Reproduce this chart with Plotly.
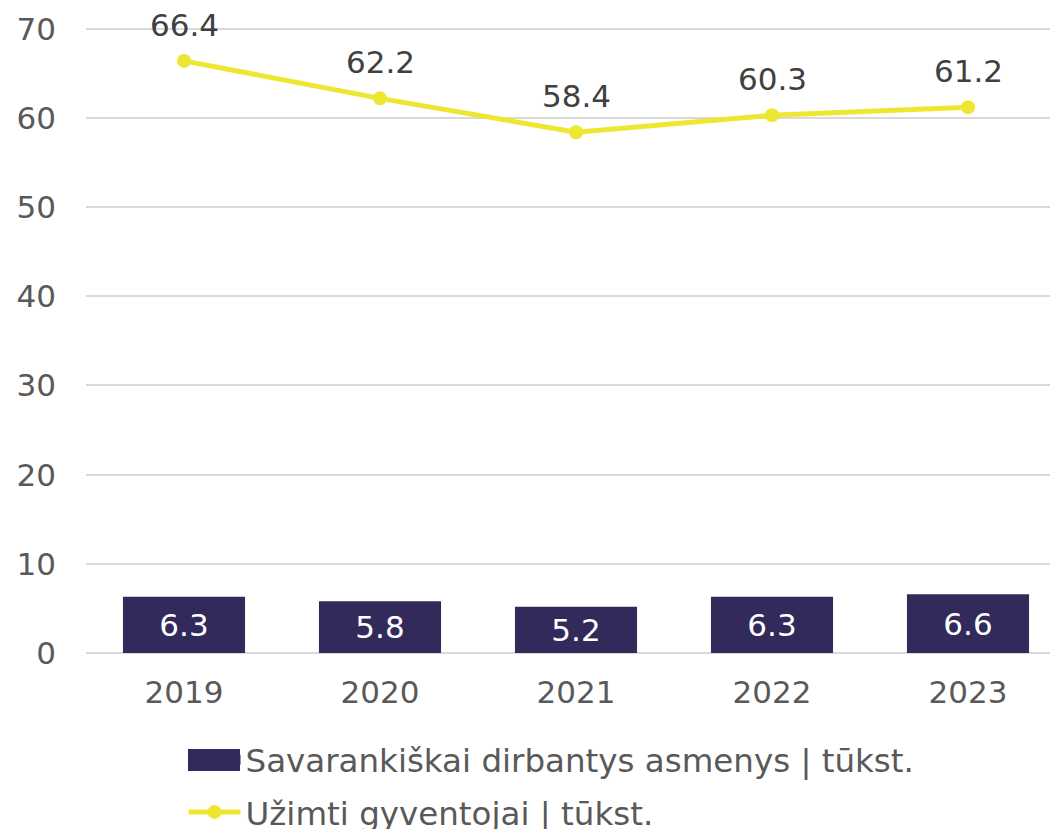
import plotly.graph_objects as go

years = ["2019", "2020", "2021", "2022", "2023"]
self_employed = [6.3, 5.8, 5.2, 6.3, 6.6]
employed = [66.4, 62.2, 58.4, 60.3, 61.2]
name_bar = "Savarankiškai dirbantys asmenys | tūkst."
name_line = "Užimti gyventojai | tūkst."

FONT = "DejaVu Sans, Verdana, sans-serif"
FS = 31
LFS = 32.5
BAR_COLOR = "#312A5A"
LINE_COLOR = "#EDE732"

fig = go.Figure()
fig.add_trace(go.Bar(
    x=years, y=self_employed, name=name_bar, showlegend=False,
    marker=dict(color=BAR_COLOR, line=dict(width=0)),
    width=0.623,
    text=[f"{v:.1f}" for v in self_employed],
    textposition="inside", insidetextanchor="middle",
    textfont=dict(color="white", size=FS, family=FONT),
    constraintext="none", cliponaxis=False,
))
# legend entry for bars (wide block symbol)
fig.add_trace(go.Scatter(
    x=years, y=[None] * len(years), name=name_bar, mode="lines",
    line=dict(color=BAR_COLOR, width=10), legendgroup="a", hoverinfo="skip",
))
fig.add_trace(go.Scatter(
    x=years, y=employed, name=name_line, legendgroup="b",
    mode="lines+markers",
    line=dict(color=LINE_COLOR, width=5),
    marker=dict(color=LINE_COLOR, size=14),
    cliponaxis=False,
))
# value labels above line points (category axis -> serial index)
for i, v in enumerate(employed):
    fig.add_annotation(x=i, y=v, text=f"{v:.1f}", showarrow=False,
                       yanchor="bottom", yshift=16,
                       font=dict(color="#404040", size=FS, family=FONT))

# widen the bar legend swatch into a block
fig.add_shape(type="rect", xref="paper", yref="paper",
              x0=0.1041, x1=0.1571, y0=-0.1885, y1=-0.1534,
              fillcolor=BAR_COLOR, line=dict(width=0), layer="above")

fig.update_layout(
    width=1058, height=837,
    margin=dict(l=78, r=0, t=19, b=192),
    paper_bgcolor="white", plot_bgcolor="white",
    font=dict(family=FONT, size=FS, color="#595959"),
    showlegend=True,
    legend=dict(orientation="v", x=0.0995, xanchor="left", y=-0.1262, yanchor="top",
                bgcolor="rgba(0,0,0,0)",
                font=dict(size=LFS, color="#595959", family=FONT),
                traceorder="grouped", tracegroupgap=7, itemwidth=52),
)
fig.update_xaxes(type="category", categoryorder="array", categoryarray=years,
                 range=[-0.5, len(years) - 0.5],
                 showgrid=False, showline=False, ticks="",
                 tickfont=dict(size=FS, color="#595959"), ticklabelstandoff=18)
fig.update_yaxes(range=[0, 70.2], tickvals=[0, 10, 20, 30, 40, 50, 60, 70],
                 showgrid=True, gridcolor="#D9D9D9",
                 gridwidth=2, zeroline=True, zerolinecolor="#D9D9D9", zerolinewidth=2,
                 showline=False, ticks="", tickfont=dict(size=FS, color="#595959"),
                 ticklabelstandoff=29)

fig.write_html("out.html")
